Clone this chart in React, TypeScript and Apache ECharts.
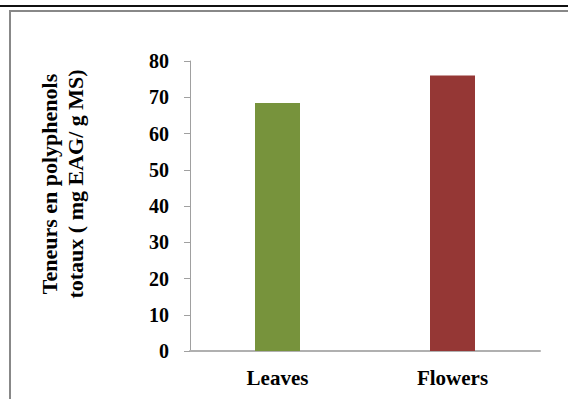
import React, { useEffect, useRef } from "react";
import * as echarts from "echarts";

const categories = ["Leaves", "Flowers"];
const values = [68.4, 76.0];
const barColors = ["#77933C", "#953735"];
const titleLines = ["Teneurs en polyphenols", "totaux ( mg EAG/ g MS)"];

export default function App() {
  const ref = useRef<HTMLDivElement>(null);
  useEffect(() => {
    if (!ref.current) return;
    const chart = echarts.init(ref.current, null, { renderer: "svg" });
    const font = "Times New Roman, Liberation Serif, serif";
    chart.setOption({
      animation: false,
      backgroundColor: "#ffffff",
      grid: { left: 190, right: 28, top: 61, bottom: 48, containLabel: false },
      xAxis: {
        type: "category",
        data: categories,
        axisLine: { lineStyle: { color: "#b0b0b0", width: 2 } },
        axisTick: { show: false },
        axisLabel: {
          margin: 16,
          fontFamily: font,
          fontWeight: "bold",
          fontSize: 21,
          color: "#000",
        },
      },
      yAxis: {
        type: "value",
        min: 0,
        max: 80,
        interval: 10,
        splitLine: { show: false },
        axisLine: { show: true, lineStyle: { color: "#a0a0a0", width: 1 } },
        axisTick: { show: true, length: 6, lineStyle: { color: "#a0a0a0" } },
        axisLabel: {
          margin: 21,
          fontFamily: font,
          fontWeight: "bold",
          fontSize: 20,
          color: "#000",
        },
      },
      series: [
        {
          type: "bar",
          barWidth: 45,
          data: values.map((v, i) => ({ value: v, itemStyle: { color: barColors[i] } })),
        },
      ],
      graphic: [
        {
          type: "line",
          shape: { x1: 0, y1: 6, x2: 568, y2: 6 },
          style: { stroke: "#111", lineWidth: 2 },
        },
        {
          type: "rect",
          shape: { x: 10, y: 11, width: 600, height: 420 },
          style: { fill: "none", stroke: "#888", lineWidth: 2 },
        },
        {
          type: "text",
          x: 49,
          y: 184,
          rotation: Math.PI / 2,
          style: {
            text: titleLines[0],
            fontFamily: font,
            fontWeight: "bold",
            fontSize: 22,
            fill: "#000",
            align: "center",
            verticalAlign: "middle",
          },
        },
        {
          type: "text",
          x: 75,
          y: 184,
          rotation: Math.PI / 2,
          style: {
            text: titleLines[1],
            fontFamily: font,
            fontWeight: "bold",
            fontSize: 22,
            fill: "#000",
            align: "center",
            verticalAlign: "middle",
          },
        },
      ],
    });
    return () => chart.dispose();
  }, []);
  return (
    <div
      ref={ref}
      style={{ position: "fixed", left: 0, top: 0, width: 568, height: 399 }}
    />
  );
}
